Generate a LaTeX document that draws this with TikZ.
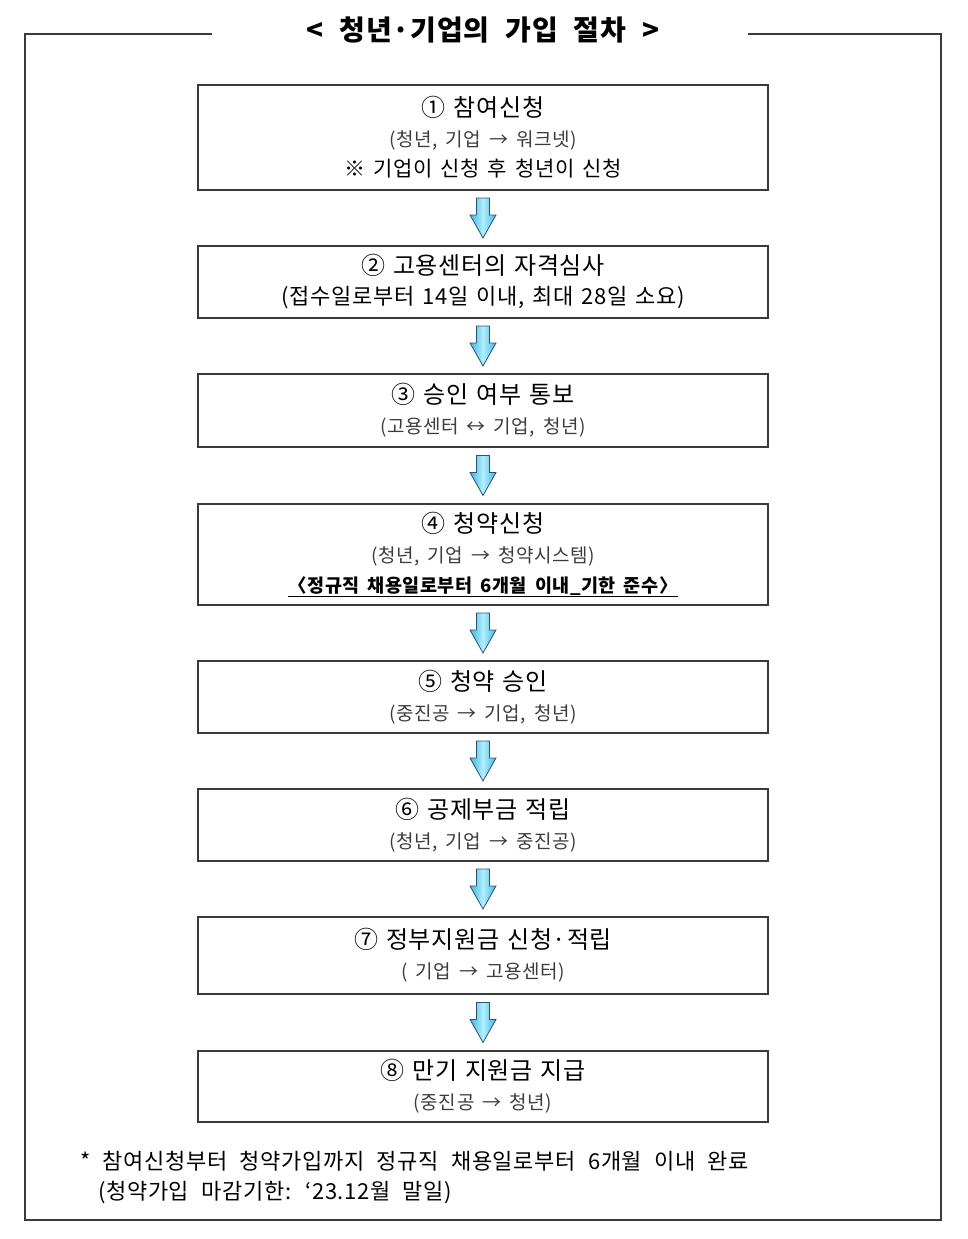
\documentclass[tikz,border=0pt]{standalone}
\usepackage{fontspec}
\setmainfont{Noto Sans CJK KR}[WordSpace=2.2, LetterSpace=3]
\usetikzlibrary{calc}

\definecolor{framegray}{HTML}{3A3A3A}
\definecolor{subgray}{HTML}{3C3C3C}
\definecolor{arrowblue}{HTML}{3FB4E6}
\definecolor{arrowlight}{HTML}{B2EEFF}
\definecolor{arrowline}{HTML}{2C5470}

\tikzset{
  stepbox/.style={draw=framegray, line width=1.3pt, minimum width=570pt,
    text width=560pt, align=center, inner sep=0pt,
    font=\fontsize{24}{30}\selectfont},
  notetext/.style={anchor=west, inner sep=0pt, font=\fontsize{22}{26}\selectfont}
}
\newcommand\subline[1]{{\fontsize{19}{30}\selectfont\color{subgray}#1}}
\newcommand\flowarrow[2]{%
  \coordinate (mid) at ($(#1.south)!0.5!(#2.north)$);
  \shade[left color=arrowblue, right color=arrowblue, middle color=arrowlight,
    draw=arrowline, line width=0.8pt]
    ($(mid)+(-6.5,-20)$) -- ($(mid)+(6.5,-20)$) -- ($(mid)+(6.5,-3)$)
    -- ($(mid)+(13,-3)$) -- ($(mid)+(0,20)$) -- ($(mid)+(-13,-3)$)
    -- ($(mid)+(-6.5,-3)$) -- cycle;
}

\begin{document}
\begin{tikzpicture}[x=1pt, y=-1pt]
  \useasboundingbox (0,0) rectangle (968,1239);

  % Outer frame with the title
  \draw[framegray, line width=1.3pt] (212,34) -- (25,34) -- (25,1220)
    -- (941,1220) -- (941,34) -- (748,34);
  \node[font=\fontsize{28}{30}\selectfont\bfseries] (title) at (483,30)
    {< 청년·기업의 가입 절차 >};

  % Steps
  \node[stepbox, minimum height=105pt] (s1) at (483,137.5)
    {① 참여신청\\\subline{(청년, 기업 → 워크넷)}\\{\fontsize{21}{30}\selectfont ※ 기업이 신청 후 청년이 신청}};
  \node[stepbox, minimum height=72pt] (s2) at (483,282)
    {② 고용센터의 자격심사\\{\fontsize{22}{30}\selectfont (접수일로부터 14일 이내, 최대 28일 소요)}};
  \node[stepbox, minimum height=73pt] (s3) at (483,410.5)
    {③ 승인 여부 통보\\\subline{(고용센터 ↔ 기업, 청년)}};
  \node[stepbox, minimum height=101pt] (s4) at (483,554.5)
    {④ 청약신청\\\subline{(청년, 기업 → 청약시스템)}\\{\fontsize{18.5}{30}\selectfont\bfseries\underline{〈정규직 채용일로부터 6개월 이내\_기한 준수〉}}};
  \node[stepbox, minimum height=72pt] (s5) at (483,697)
    {⑤ 청약 승인\\\subline{(중진공 → 기업, 청년)}};
  \node[stepbox, minimum height=72pt] (s6) at (483,825)
    {⑥ 공제부금 적립\\\subline{(청년, 기업 → 중진공)}};
  \node[stepbox, minimum height=77pt] (s7) at (483,955.5)
    {⑦ 정부지원금 신청·적립\\\subline{( 기업 → 고용센터)}};
  \node[stepbox, minimum height=71pt] (s8) at (483,1086.5)
    {⑧ 만기 지원금 지급\\\subline{(중진공 → 청년)}};

  % Arrows between steps
  \foreach \a/\b in {s1/s2, s2/s3, s3/s4, s4/s5, s5/s6, s6/s7, s7/s8}
    \flowarrow{\a}{\b};

  % Footnote
  \node[notetext] (note1) at (80,1161)
    {* 참여신청부터 청약가입까지 정규직 채용일로부터 6개월 이내 완료};
  \node[notetext] (note2) at (98,1192) {(청약가입 마감기한: ‘23.12월 말일)};
\end{tikzpicture}
\end{document}
